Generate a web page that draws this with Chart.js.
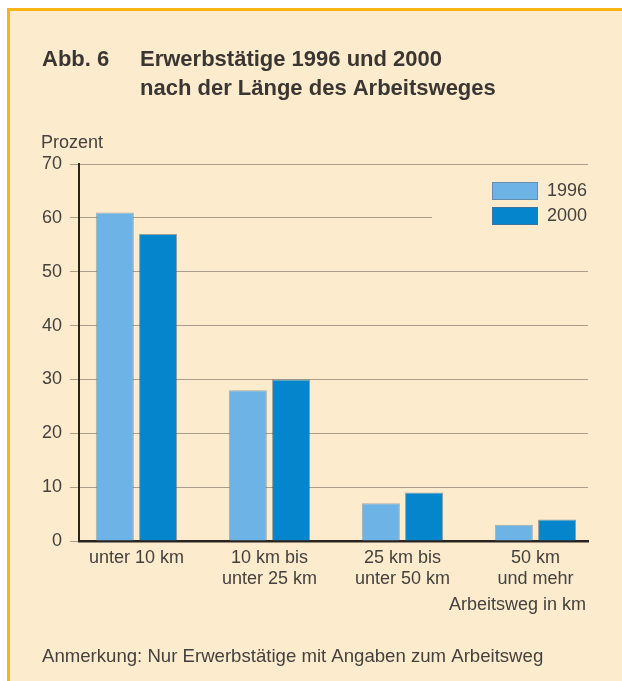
<!DOCTYPE html>
<html>
  <head>
    <title>Erwerbstätige nach Arbeitsweg</title>
    <meta charset="UTF-8" />
    <script src="https://cdn.jsdelivr.net/npm/chart.js@4"></script>
    <style>
      body { margin: 0; background: #ffffff; }
      #frame {
        position: absolute; left: 7px; top: 8px; right: 0; bottom: 0;
        background: #fdebce;
        border-left: 3px solid #fbb416;
        border-top: 3px solid #fbb416;
      }
      #myChart { position: absolute; left: 0; top: 0; }
    </style>
  </head>
  <body>
    <div id="frame"></div>
    <canvas id="myChart" width="622" height="681"></canvas>
    <script>
      // Arbeitsweg-Klassen (mehrzeilige Beschriftung)
      var categories = [
        ["unter 10 km"],
        ["10 km bis", "unter 25 km"],
        ["25 km bis", "unter 50 km"],
        ["50 km", "und mehr"]
      ];
      var years = ["1996", "2000"];
      var values1996 = [61, 28, 7, 3];
      var values2000 = [57, 30, 9, 4];
      var yTicks = [0, 10, 20, 30, 40, 50, 60, 70];

      var bg = "#fdebce";
      var textColor = "#45413d";
      var colors = ["#6eb3e5", "#0585cc"];
      var font = "Liberation Sans, Arial, sans-serif";

      function points(values) {
        return values.map(function (v, i) {
          return { x: i, y: v };
        });
      }

      // Titel, Achsenbeschriftungen, Legende und Anmerkung
      var textPlugin = {
        id: "texts",
        afterDraw: function (chart) {
          var ctx = chart.ctx;
          var area = chart.chartArea;
          ctx.save();
          ctx.fillStyle = "#3a3632";
          ctx.textBaseline = "middle";
          ctx.textAlign = "left";
          ctx.font = "bold 22px " + font;
          ctx.fillText("Abb. 6", 42, 60);
          ctx.fillText("Erwerbstätige 1996 und 2000", 140, 60);
          ctx.fillText("nach der Länge des Arbeitsweges", 140, 89);

          ctx.fillStyle = textColor;
          ctx.font = "18px " + font;
          ctx.fillText("Prozent", 41, 143);
          ctx.textAlign = "right";
          ctx.fillText("Arbeitsweg in km", area.right - 2, 605);
          ctx.textAlign = "left";
          ctx.font = "18.6px " + font;
          ctx.fillText("Anmerkung: Nur Erwerbstätige mit Angaben zum Arbeitsweg", 42, 657);

          // Legende oben rechts, unterbricht die 60er-Linie
          ctx.font = "18px " + font;
          ctx.fillStyle = bg;
          ctx.fillRect(432, 172, area.right - 432 + 2, 60);
          var boxX = area.right - 96;
          for (var i = 0; i < years.length; i++) {
            var top = 182 + i * 25;
            ctx.fillStyle = colors[i];
            ctx.fillRect(boxX, top, 46, 18);
            ctx.strokeStyle = "rgba(90,110,125,0.55)";
            ctx.lineWidth = 1;
            ctx.strokeRect(boxX + 0.5, top + 0.5, 45, 17);
            ctx.fillStyle = textColor;
            ctx.fillText(years[i], area.right - 41, top + 9.5);
          }
          ctx.restore();
        }
      };

      var ctx = document.getElementById("myChart").getContext("2d");
      var chart = new Chart(ctx, {
        type: "bar",
        data: {
          datasets: [
            {
              label: years[0],
              data: points(values1996),
              backgroundColor: colors[0],
              borderColor: "rgba(90,110,125,0.5)",
              borderWidth: 1
            },
            {
              label: years[1],
              data: points(values2000),
              backgroundColor: colors[1],
              borderColor: "rgba(40,80,110,0.5)",
              borderWidth: 1
            }
          ]
        },
        options: {
          responsive: false,
          animation: false,
          devicePixelRatio: 1,
          categoryPercentage: 0.65,
          barPercentage: 0.88,
          layout: { padding: { left: 0, top: 164, right: 34, bottom: 0 } },
          plugins: {
            legend: { display: false },
            tooltip: { enabled: false }
          },
          scales: {
            x: {
              type: "linear",
              offset: false,
              min: -0.432,
              max: 3.395,
              afterBuildTicks: function (scale) {
                scale.ticks = categories.map(function (c, i) {
                  return { value: i };
                });
              },
              afterFit: function (scale) {
                scale.height = 140;
              },
              grid: { display: false, drawTicks: false },
              border: { display: true, color: "#2a2421", width: 2.5 },
              ticks: {
                padding: 6,
                color: textColor,
                font: { family: font, size: 18 },
                maxRotation: 0,
                autoSkip: false,
                callback: function (value) {
                  return categories[value];
                }
              }
            },
            y: {
              min: 0,
              max: 70,
              afterBuildTicks: function (scale) {
                scale.ticks = yTicks.map(function (v) {
                  return { value: v };
                });
              },
              afterFit: function (scale) {
                scale.width = 79;
              },
              grid: { color: "#aa9d8b", lineWidth: 1, tickLength: 9 },
              border: { display: true, color: "#2a2421", width: 2 },
              ticks: {
                padding: 8,
                color: textColor,
                font: { family: font, size: 18 }
              }
            }
          }
        },
        plugins: [textPlugin]
      });
    </script>
  </body>
</html>
